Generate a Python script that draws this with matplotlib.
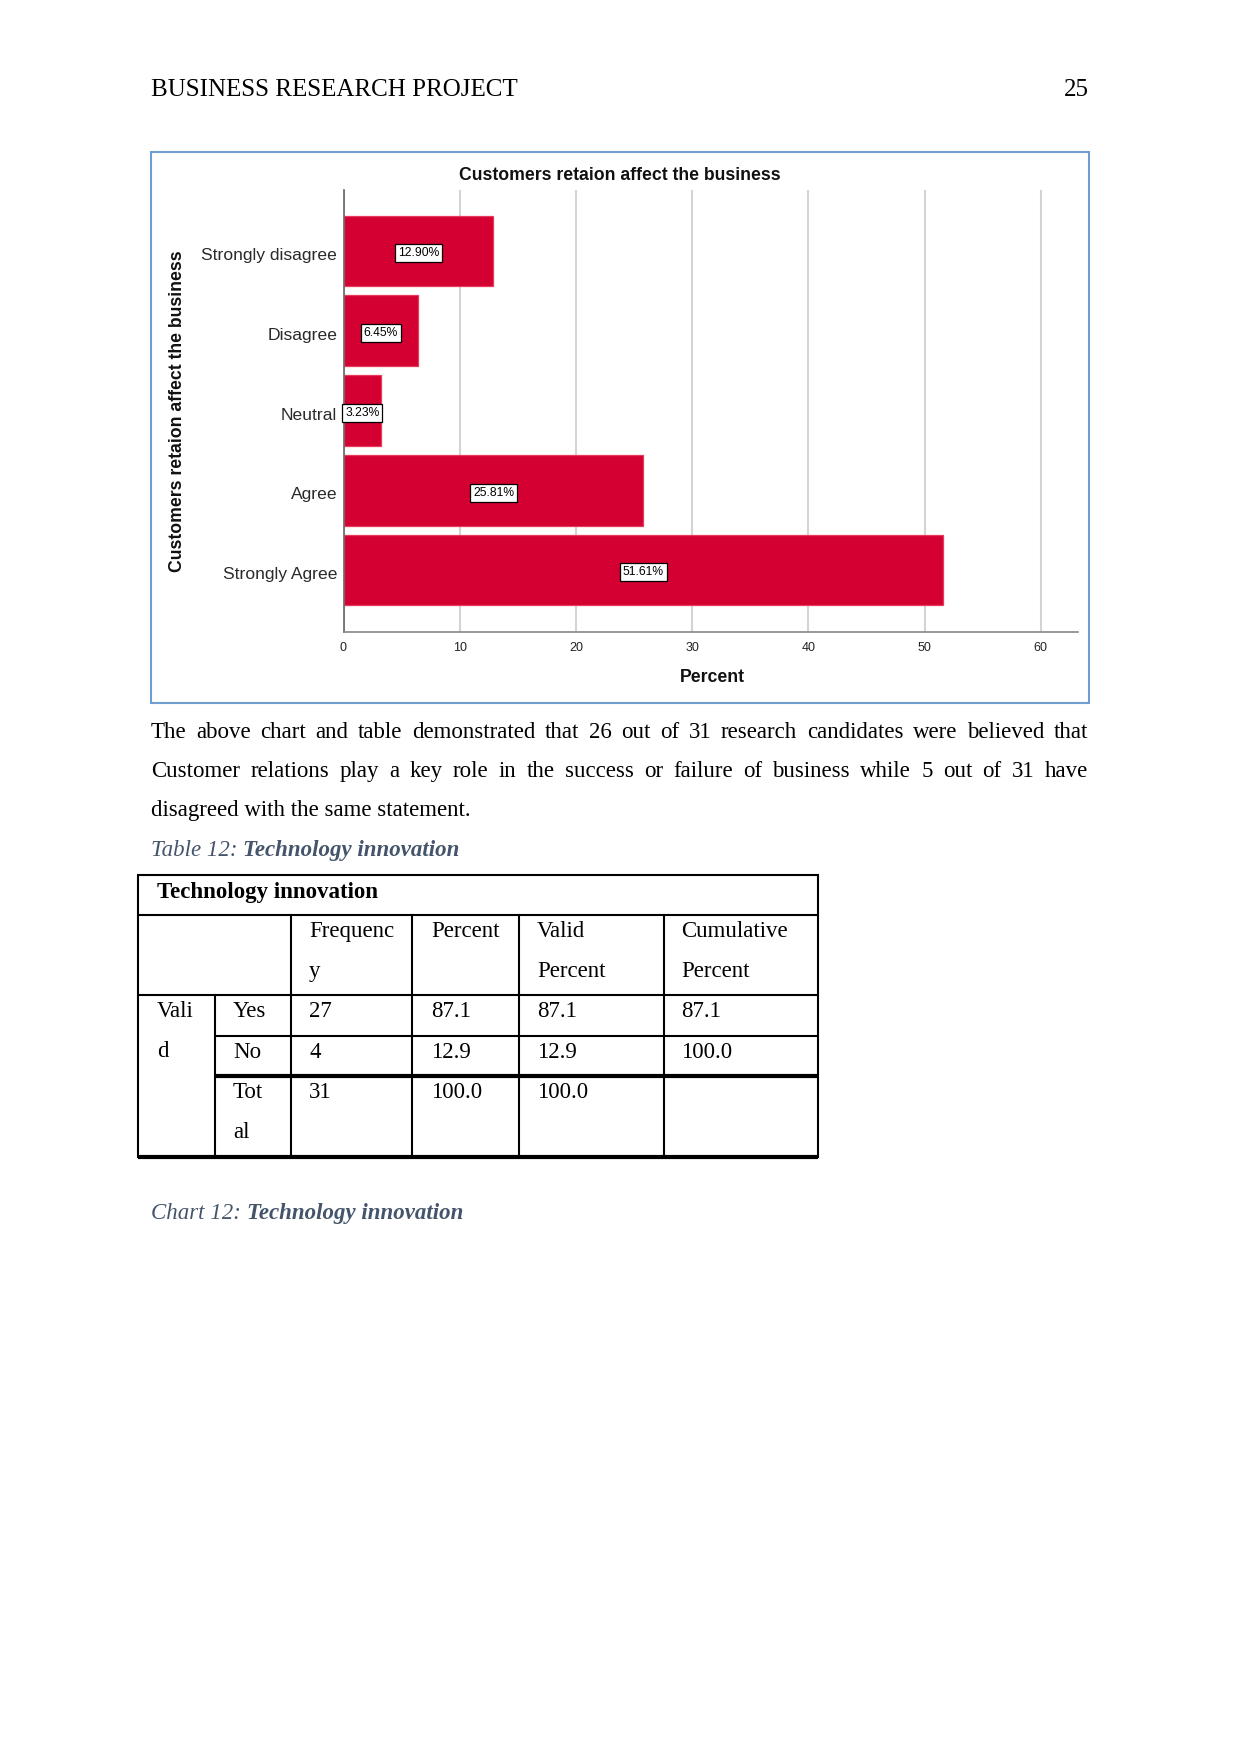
import matplotlib
matplotlib.use('Agg')
import matplotlib.pyplot as plt
from matplotlib import font_manager
import numpy as np

# Page / chart data
header_left  = 'BUSINESS RESEARCH PROJECT'
header_right = '25'

chart_title   = 'Customers retaion affect the business'
chart_ylabel  = 'Customers retaion affect the business'
chart_xlabel  = 'Percent'
categories    = ['Strongly disagree', 'Disagree', 'Neutral', 'Agree', 'Strongly Agree']
percents      = [12.90, 6.45, 3.23, 25.81, 51.61]
xticks        = [0, 10, 20, 30, 40, 50, 60]

paragraph = [
    'The above chart and table demonstrated that 26 out of 31 research candidates were believed that',
    'Customer relations play a key role in the success or failure of business while 5 out of 31 have',
    'disagreed with the same statement.',
]
table_caption = ('Table 12: ', 'Technology innovation')
chart_caption = ('Chart 12: ', 'Technology innovation')

table_title   = 'Technology innovation'
table_header  = [['Frequenc', 'y'], ['Percent'], ['Valid', 'Percent'], ['Cumulative', 'Percent']]
row_group     = ['Vali', 'd']
row_labels    = [['Yes'], ['No'], ['Tot', 'al']]
frequency     = ['27', '4', '31']
percent_col   = ['87.1', '12.9', '100.0']
valid_col     = ['87.1', '12.9', '100.0']
cumul_col     = ['87.1', '100.0', '']

W, H = 1241, 1754
DPI = 150
SERIF = 'Liberation Serif'
installed = {f.name for f in font_manager.fontManager.ttflist}
NARROW = 'Liberation Sans Narrow' if 'Liberation Sans Narrow' in installed else 'Liberation Sans'
BODY_SIZE = 11

fig = plt.figure(figsize=(W / DPI, H / DPI), dpi=DPI)
fig.patch.set_facecolor('white')

# page overlay in pixel coordinates
page = fig.add_axes([0, 0, 1, 1], zorder=0)
page.set_xlim(0, W)
page.set_ylim(H, 0)
page.axis('off')


def frac(x0, y0, x1, y1):
    return [x0 / W, 1 - y1 / H, (x1 - x0) / W, (y1 - y0) / H]


renderer = fig.canvas.get_renderer()


def text_width(s, **kw):
    t = page.text(0, 0, s, **kw)
    bb = t.get_window_extent(renderer=renderer)
    t.remove()
    return bb.width


def justify(line, x0, x1, y, **kw):
    words = line.split(' ')
    widths = [text_width(w, **kw) for w in words]
    gap = (x1 - x0 - sum(widths)) / (len(words) - 1)
    x = x0
    for w, wd in zip(words, widths):
        page.text(x, y, w, va='baseline', ha='left', **kw)
        x += wd + gap


def caption(parts, x, y):
    kw = dict(family=SERIF, fontsize=BODY_SIZE, color='#44546a', style='italic')
    page.text(x, y, parts[0], va='baseline', **kw)
    dx = text_width(parts[0], **kw)
    page.text(x + dx, y, parts[1], va='baseline', weight='bold', **kw)


# header
page.text(151, 96, header_left, family=SERIF, fontsize=12, va='baseline')
page.text(1089, 96, header_right, family=SERIF, fontsize=12, va='baseline', ha='right')

# chart frame
page.add_patch(plt.Rectangle((151, 152), 938, 551, fill=False, edgecolor='#6f9fd0', lw=1.0))

# bar chart
ax = fig.add_axes(frac(343.5, 190, 1078, 632), zorder=1)
ypos = np.arange(len(categories))
ax.barh(ypos, percents, height=0.885, color='#d40032', edgecolor='#e83a5c', linewidth=0.6, zorder=2)
for yp, p in zip(ypos, percents):
    ax.text(p / 2, yp + 0.03, '{:.2f}%'.format(p), ha='center', va='center', fontsize=5.8,
            family=NARROW, zorder=3,
            bbox=dict(boxstyle='square,pad=0.25', facecolor='white', edgecolor='black', lw=0.6))
ax.set_xlim(0, 63.2)
ax.set_ylim(len(categories) - 1 + 0.777, -0.765)
ax.set_xticks(xticks)
ax.set_yticks(ypos + 0.04)
ax.set_yticklabels(categories, family=NARROW, fontsize=8.4, color='#2a2a2a')
ax.set_xticklabels([str(v) for v in xticks], family=NARROW, fontsize=6, color='#222222')
ax.tick_params(axis='both', length=0)
ax.tick_params(axis='x', pad=5)
ax.tick_params(axis='y', pad=3)
ax.xaxis.grid(True, color='#d4d4d4', lw=1.0, zorder=0)
ax.set_axisbelow(True)
for s in ['top', 'right']:
    ax.spines[s].set_visible(False)
ax.spines['left'].set_color('#666666')
ax.spines['bottom'].set_color('#888888')
ax.spines['left'].set_linewidth(0.8)
ax.spines['bottom'].set_linewidth(0.8)

page.text(620, 176, chart_title, family='Liberation Sans', weight='bold', fontsize=8.45,
          ha='center', va='center', color='#111111')
page.text(712, 677, chart_xlabel, family='Liberation Sans', weight='bold', fontsize=8.45,
          ha='center', va='center', color='#111111')
page.text(178, 411, chart_ylabel, family='Liberation Sans', weight='bold', fontsize=8.45,
          ha='center', va='center', rotation=90, color='#111111')

# paragraph
body = dict(family=SERIF, fontsize=BODY_SIZE)
justify(paragraph[0], 151, 1088, 738, **body)
justify(paragraph[1], 151, 1088, 777, **body)
page.text(151, 816, paragraph[2], va='baseline', **body)

caption(table_caption, 151, 856)

# table grid
thin, thick = 1.0, 2.0
hlines = [
    (875, 138, 818, thin),
    (915, 138, 818, thin),
    (995, 138, 818, thin),
    (1036, 215, 818, thin),
    (1076, 215, 818, thick),
    (1157, 138, 818, thick),
]
vlines = [
    (138, 875, 1157), (215, 995, 1157), (291, 915, 1157), (412, 915, 1157),
    (519, 915, 1157), (664, 915, 1157), (818, 875, 1157),
]
for y, xa, xb, lw in hlines:
    page.plot([xa, xb], [y, y], color='black', lw=lw, solid_capstyle='butt')
for x, ya, yb in vlines:
    page.plot([x, x], [ya, yb], color='black', lw=thin, solid_capstyle='projecting')

cell = dict(family=SERIF, fontsize=BODY_SIZE, va='baseline')
page.text(157, 898, table_title, weight='bold', **cell)
col_x = [309, 431, 537, 681]
for cx, lines in zip(col_x, table_header):
    for i, s in enumerate(lines):
        page.text(cx, 937 + 40 * i, s, **cell)
for i, s in enumerate(row_group):
    page.text(157, 1017 + 40 * i, s, **cell)
row_y = [1017, 1058, 1098]
for ry, lab, f, p, v, c in zip(row_y, row_labels, frequency, percent_col, valid_col, cumul_col):
    for i, s in enumerate(lab):
        page.text(233, ry + 40 * i, s, **cell)
    for cx, s in zip(col_x, [f, p, v, c]):
        page.text(cx, ry, s, **cell)

caption(chart_caption, 151, 1219)

fig.savefig('out.png', dpi=DPI)
